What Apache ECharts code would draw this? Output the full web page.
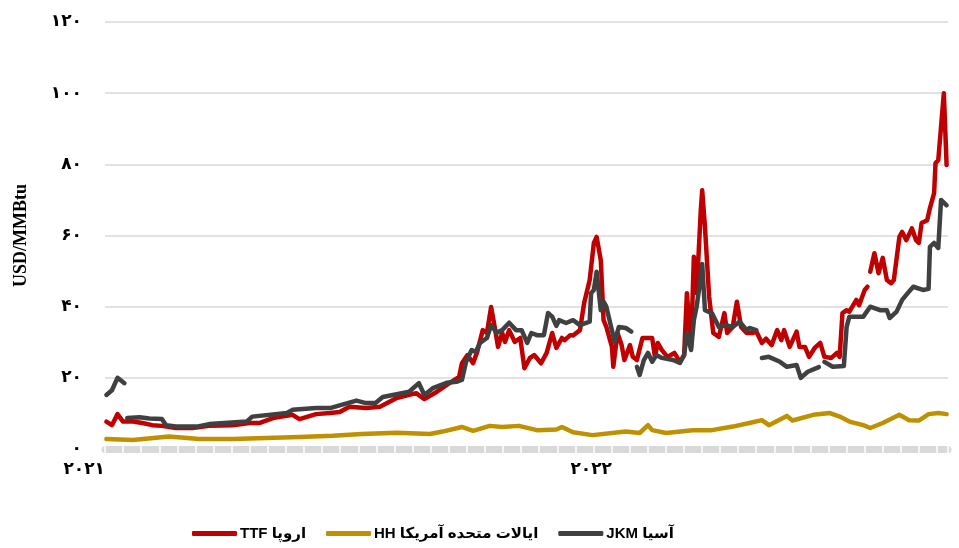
<!DOCTYPE html>
<html>
<head>
<meta charset="utf-8">
<script src="https://cdn.jsdelivr.net/npm/echarts@6/dist/echarts.min.js"></script>
<style>
    html, body { margin: 0; padding: 0; background: #fff; }
    #chart { width: 959px; height: 548px; }
</style>
</head>
<body>
<div id="chart"></div>
<script>
// 資料
const ttfDates = ['2021-01-02', '2021-01-06', '2021-01-10', '2021-01-14', '2021-01-21', '2021-01-28', '2021-02-04', '2021-02-11', '2021-02-21', '2021-03-05',
    '2021-03-17', '2021-04-03', '2021-04-15', '2021-04-22', '2021-05-02', '2021-05-16', '2021-05-21', '2021-06-02', '2021-06-12', '2021-06-19',
    '2021-06-26', '2021-07-08', '2021-07-18', '2021-07-30', '2021-08-13', '2021-08-19', '2021-08-28', '2021-09-06', '2021-09-13', '2021-09-15',
    '2021-09-19', '2021-09-23', '2021-09-26', '2021-09-30', '2021-10-03', '2021-10-06', '2021-10-09', '2021-10-11', '2021-10-14', '2021-10-16',
    '2021-10-19', '2021-10-23', '2021-10-27', '2021-10-30', '2021-11-03', '2021-11-06', '2021-11-11', '2021-11-15', '2021-11-19', '2021-11-22',
    '2021-11-26', '2021-11-28', '2021-12-02', '2021-12-04', '2021-12-09', '2021-12-12', '2021-12-16', '2021-12-19', '2021-12-21', '2021-12-24',
    '2021-12-26', '2021-12-28', '2022-01-01', '2022-01-02', '2022-01-05', '2022-01-08', '2022-01-10', '2022-01-14', '2022-01-16', '2022-01-19',
    '2022-01-23', '2022-01-30', '2022-02-01', '2022-02-03', '2022-02-06', '2022-02-10', '2022-02-15', '2022-02-19', '2022-02-22', '2022-02-24',
    '2022-02-27', '2022-03-01', '2022-03-03', '2022-03-06', '2022-03-07', '2022-03-09', '2022-03-12', '2022-03-15', '2022-03-19', '2022-03-23',
    '2022-03-25', '2022-03-29', '2022-04-01', '2022-04-04', '2022-04-08', '2022-04-12', '2022-04-15', '2022-04-19', '2022-04-22', '2022-04-26',
    '2022-04-30', '2022-05-03', '2022-05-05', '2022-05-09', '2022-05-14', '2022-05-16', '2022-05-20', '2022-05-23', '2022-05-27', '2022-05-31',
    '2022-06-03', '2022-06-08', '2022-06-12', '2022-06-14', '2022-06-16', '2022-06-19', '2022-06-21', '2022-06-26', '2022-06-28', '2022-07-02',
    '2022-07-04', '2022-07-05', '2022-07-06', '2022-07-09', '2022-07-12', '2022-07-15', '2022-07-18', '2022-07-21', '2022-07-23', '2022-07-27',
    '2022-07-29', '2022-08-01', '2022-08-05', '2022-08-08', '2022-08-10', '2022-08-12', '2022-08-16', '2022-08-18', '2022-08-21', '2022-08-22',
    '2022-08-24', '2022-08-28', '2022-08-30']
const ttfValues = [7.7, 6.7, 9.8, 7.7, 7.7, 7.3, 6.7, 6.5, 5.9, 5.9,
    6.5, 6.7, 7.3, 7.3, 8.7, 9.6, 8.4, 9.8, 10.1, 10.4,
    11.9, 11.5, 11.9, 14.3, 15.7, 14.0, 16.1, 18.5, 20.3, 24.1,
    26.4, 24.1, 27.3, 33.4, 32.6, 39.9, 33.4, 28.7, 32.6, 30.1,
    33.4, 30.1, 31.2, 22.7, 25.6, 26.4, 24.1, 27.0, 32.6, 28.4,
    31.2, 30.6, 32.0, 31.9, 33.4, 41.0, 47.5, 57.9, 59.6, 53.0,
    36.2, 34.3, 28.7, 23.1, 32.6, 29.2, 25.0, 29.2, 25.9, 25.0,
    31.2, 31.2, 25.9, 29.8, 27.8, 25.9, 27.0, 24.5, 26.4, 43.8,
    28.7, 54.0, 43.8, 67.1, 72.7, 62.4, 42.8, 32.6, 31.5, 38.2,
    32.6, 34.3, 41.4, 34.3, 32.6, 32.6, 33.0, 29.8, 31.0, 29.2,
    33.4, 30.6, 33.4, 28.7, 33.0, 28.7, 28.7, 25.9, 28.4, 29.8,
    25.9, 25.6, 27.0, 25.9, 38.2, 39.0, 38.6, 41.9, 40.4, 44.7,
    45.6, null, 49.8, 55.0, 49.4, 53.7, 47.5, 46.6, 47.5, 59.6,
    61.0, 58.7, 62.0, 58.7, 57.9, 63.5, 64.3, 67.7, 71.9, 80.3,
    81.2, 100.0, 79.8]

const hhDates = ['2021-01-02', '2021-01-21', '2021-02-16', '2021-03-10', '2021-04-03', '2021-04-27', '2021-05-21', '2021-06-14', '2021-07-05', '2021-07-30',
    '2021-08-23', '2021-09-01', '2021-09-15', '2021-09-23', '2021-10-05', '2021-10-14', '2021-10-26', '2021-11-08', '2021-11-22', '2021-11-26',
    '2021-12-04', '2021-12-18', '2022-01-11', '2022-01-21', '2022-01-27', '2022-01-30', '2022-02-09', '2022-02-28', '2022-03-14', '2022-03-29',
    '2022-04-10', '2022-04-19', '2022-04-24', '2022-05-07', '2022-05-11', '2022-05-26', '2022-06-07', '2022-06-14', '2022-06-21', '2022-07-01',
    '2022-07-06', '2022-07-15', '2022-07-27', '2022-08-03', '2022-08-10', '2022-08-17', '2022-08-24', '2022-08-30']
const hhValues = [2.8, 2.5, 3.5, 2.8, 2.8, 3.1, 3.4, 3.7, 4.2, 4.6,
    4.2, 4.9, 6.2, 5.1, 6.5, 6.2, 6.5, 5.3, 5.5, 6.2,
    4.7, 3.9, 4.9, 4.5, 6.7, 5.3, 4.5, 5.3, 5.3, 6.3,
    7.3, 8.1, 6.7, 9.3, 8.0, 9.6, 10.1, 9.1, 7.7, 6.7,
    5.9, 7.3, 9.6, 8.1, 8.0, 9.8, 10.1, 9.8]

const jkmDates = ['2021-01-02', '2021-01-06', '2021-01-10', '2021-01-15', '2021-01-16', '2021-01-17', '2021-01-26', '2021-02-02', '2021-02-11', '2021-02-14',
    '2021-02-21', '2021-03-08', '2021-03-17', '2021-04-13', '2021-04-17', '2021-05-12', '2021-05-16', '2021-06-02', '2021-06-12', '2021-07-01',
    '2021-07-08', '2021-07-15', '2021-07-20', '2021-07-30', '2021-08-08', '2021-08-15', '2021-08-19', '2021-08-25', '2021-09-04', '2021-09-11',
    '2021-09-15', '2021-09-18', '2021-09-22', '2021-09-25', '2021-09-28', '2021-10-03', '2021-10-06', '2021-10-10', '2021-10-14', '2021-10-19',
    '2021-10-24', '2021-10-28', '2021-11-01', '2021-11-04', '2021-11-08', '2021-11-13', '2021-11-16', '2021-11-19', '2021-11-22', '2021-11-24',
    '2021-11-29', '2021-12-04', '2021-12-09', '2021-12-16', '2021-12-17', '2021-12-19', '2021-12-21', '2021-12-24', '2021-12-26', '2021-12-28',
    '2022-01-01', '2022-01-03', '2022-01-06', '2022-01-11', '2022-01-15', '2022-01-17', '2022-01-19', '2022-01-21', '2022-01-24', '2022-01-27',
    '2022-01-30', '2022-02-02', '2022-02-06', '2022-02-14', '2022-02-19', '2022-02-22', '2022-02-24', '2022-02-27', '2022-03-01', '2022-03-03',
    '2022-03-05', '2022-03-07', '2022-03-09', '2022-03-14', '2022-03-19', '2022-03-24', '2022-03-29', '2022-04-03', '2022-04-08', '2022-04-10',
    '2022-04-15', '2022-04-17', '2022-04-19', '2022-04-24', '2022-05-02', '2022-05-07', '2022-05-14', '2022-05-17', '2022-05-22', '2022-05-30',
    '2022-06-01', '2022-06-03', '2022-06-09', '2022-06-17', '2022-06-19', '2022-06-21', '2022-07-01', '2022-07-06', '2022-07-13', '2022-07-18',
    '2022-07-20', '2022-07-25', '2022-07-29', '2022-08-02', '2022-08-06', '2022-08-13', '2022-08-17', '2022-08-18', '2022-08-21', '2022-08-24',
    '2022-08-26', '2022-08-30']
const jkmValues = [15.2, 16.5, 20.0, 18.5, null, 8.7, 8.9, 8.6, 8.4, 6.7,
    6.3, 6.3, 7.0, 7.7, 9.1, 10.1, 11.0, 11.5, 11.5, 13.6,
    12.9, 13.0, 14.6, 15.4, 16.1, 18.5, 15.2, 17.1, 18.6, 18.9,
    19.4, 24.5, 27.8, 27.3, 29.8, 31.2, 34.8, 32.7, 33.4, 35.5,
    33.4, 33.4, 29.8, 32.6, 32.0, 32.0, 38.2, 37.2, 34.6, 36.2,
    35.4, 36.2, 34.8, 35.8, 43.8, 44.7, 49.8, 39.0, 41.4, 40.0,
    33.4, 30.1, 34.3, 34.0, 33.0, null, 23.1, 20.8, 25.0, 27.0,
    24.5, 26.4, 25.6, 25.0, 24.2, 26.4, 32.6, 27.8, 36.2, 40.0,
    45.6, 52.0, 39.0, 38.2, 34.3, 34.8, 34.3, 35.8, 33.4, 34.0,
    33.4, null, 25.6, 25.9, 24.5, 23.1, 23.6, 20.0, 21.7, 23.0,
    null, 24.5, 23.1, 23.3, 34.3, 37.2, 37.2, 40.0, 39.0, 39.0,
    36.8, 38.6, 41.9, 43.8, 45.6, 44.7, 45.0, 56.8, 57.9, 56.5,
    70.0, 68.5]

const seriesNames = ['TTF اروپا', 'HH ایالات متحده آمریکا', 'JKM آسیا']
const yTickLabels = ['۰', '۲۰', '۴۰', '۶۰', '۸۰', '۱۰۰', '۱۲۰']
const xTickDates = ['2021-01-01', '2022-01-01']
const xTickLabels = ['۲۰۲۱', '۲۰۲۲']

// 日期轉時間戳 (local)
function ts(s) {
    return new Date(s + 'T00:00:00').getTime()
}
function toPairs(dates, values) {
    return dates.map((d, i) => [ts(d), values[i]])
}

const chartDom = document.getElementById('chart')
let myChart = echarts.init(chartDom, null, { renderer: 'canvas' })
let option

const labelFont = 'DejaVu Sans'
const xTickTs = xTickDates.map(ts)

option = {
    animation: false,
    color: ['#C00000', '#BF9000', '#404040'],
    grid: {
        left: 105,
        right: 11,
        top: 22,
        bottom: 99,
    },
    legend: {
        left: 192,
        top: 526,
        padding: 0,
        icon: 'roundRect',
        itemWidth: 45,
        itemHeight: 5,
        itemGap: 20,
        textStyle: {
            fontFamily: 'Liberation Sans, DejaVu Sans',
            fontWeight: 'bold',
            fontSize: 15,
            color: '#000',
            padding: [0, 0, 0, -2],
        },
        data: seriesNames,
    },
    xAxis: [
        {
            // 時間軸 (用時間戳的數值軸)
            type: 'value',
            min: ts('2021-01-01'),
            max: ts('2022-08-31'),
            axisLine: { lineStyle: { color: '#D9D9D9', width: 7 } },
            axisTick: { show: false },
            splitLine: { show: false },
            axisLabel: {
                customValues: xTickTs,
                align: 'right',
                margin: 12,
                fontFamily: labelFont,
                fontWeight: 'bold',
                fontSize: 17,
                color: '#000',
                formatter: (v) => xTickLabels[xTickTs.indexOf(v)] || '',
            },
        },
        {
            // 白色刻度
            type: 'value',
            position: 'bottom',
            offset: 4,
            min: 0,
            max: 46.6,
            interval: 1,
            axisLine: { show: false },
            axisTick: { inside: true, length: 7, lineStyle: { color: '#FFFFFF', width: 1.5 } },
            axisLabel: { show: false },
            splitLine: { show: false },
        },
    ],
    yAxis: {
        type: 'value',
        min: 0,
        max: 120,
        interval: 20,
        name: 'USD/MMBtu',
        nameLocation: 'middle',
        nameGap: 75,
        nameTextStyle: {
            fontFamily: 'Liberation Serif',
            fontWeight: 'bold',
            fontSize: 18,
            color: '#000',
        },
        axisLine: { show: false },
        axisTick: { show: false },
        splitLine: { lineStyle: { color: '#D9D9D9', width: 1.5 } },
        axisLabel: {
            margin: 23,
            fontFamily: labelFont,
            fontWeight: 'bold',
            fontSize: 17,
            color: '#000',
            formatter: (v) => yTickLabels[v / 20],
        },
    },
    series: [
        {
            name: seriesNames[0],
            type: 'line',
            data: toPairs(ttfDates, ttfValues),
            showSymbol: false,
            connectNulls: false,
            lineStyle: { width: 4.5, cap: 'round', join: 'round' },
        },
        {
            name: seriesNames[1],
            type: 'line',
            data: toPairs(hhDates, hhValues),
            showSymbol: false,
            lineStyle: { width: 4.5, cap: 'round', join: 'round' },
        },
        {
            name: seriesNames[2],
            type: 'line',
            data: toPairs(jkmDates, jkmValues),
            showSymbol: false,
            connectNulls: false,
            lineStyle: { width: 4.5, cap: 'round', join: 'round' },
        },
    ],
}

myChart.setOption(option)
</script>
</body>
</html>
